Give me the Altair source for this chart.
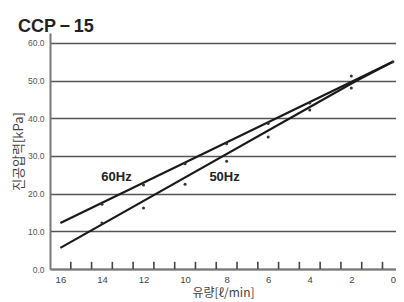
import altair as alt
import pandas as pd

# ---- data ----
series = ["60Hz", "50Hz"]
line60_x = [16, 0]
line60_y = [12.2, 55.0]
line50_x = [16, 1.8, 0]
line50_y = [5.6, 49.8, 55.0]
pts60_x = [14, 12, 10, 8, 6, 4, 2, 0]
pts60_y = [17.2, 22.3, 27.9, 33.2, 38.6, 44.0, 51.2, 55.0]
pts50_x = [14, 12, 10, 8, 6, 4, 2]
pts50_y = [12.2, 16.2, 22.5, 28.6, 35.0, 42.2, 48.0]
label_x = [13.3, 8.1]
label_y = [24.4, 24.4]

x_ticks = [16, 14, 12, 10, 8, 6, 4, 2, 0]
x_minor = [15.5, 14.5, 13.5, 12.5, 11.5, 10.5, 9.5, 8.5, 7.5, 6.5, 5.5, 4.5, 3.5, 2.5, 1.5, 0.5]
y_ticks = [0, 10, 20, 30, 40, 50, 60]

W, H = 346, 236

lines = pd.DataFrame(
    [{"s": series[0], "x": a, "y": b, "o": i} for i, (a, b) in enumerate(zip(line60_x, line60_y))]
    + [{"s": series[1], "x": a, "y": b, "o": i} for i, (a, b) in enumerate(zip(line50_x, line50_y))]
)
pts = pd.DataFrame(
    [{"s": series[0], "x": a, "y": b} for a, b in zip(pts60_x, pts60_y)]
    + [{"s": series[1], "x": a, "y": b} for a, b in zip(pts50_x, pts50_y)]
)
labels = pd.DataFrame({"s": series, "x": label_x, "y": label_y})
minor = pd.DataFrame({"m": x_minor, "b": [0.0] * len(x_minor), "t": [1.9] * len(x_minor)})

xscale = alt.Scale(domain=[-0.15, 16.5], reverse=True, nice=False, zero=False)
yscale = alt.Scale(domain=[0, 62.6], nice=False, zero=False)

FONT = "Liberation Sans"
KFONT = "Noto Sans CJK KR"

x_axis = alt.Axis(
    values=x_ticks, format="d", tickSize=0, labelPadding=5, labelFontSize=9.5,
    labelColor="#444", labelFont=FONT, domainColor="#777", domainWidth=2,
    grid=False, title="유량[ℓ/min]", titleFont=KFONT, titleFontSize=12,
    titleFontWeight="normal", titleColor="#444", titlePadding=4,
)
y_axis = alt.Axis(
    values=y_ticks, tickCount=7, format=".1f", tickSize=0, labelPadding=6,
    labelFontSize=8.5, labelOverlap=False,
    labelColor="#555", labelFont=FONT, domainColor="#777", domainWidth=2,
    grid=True, gridColor="#555", gridWidth=1.3, title="진공압력[kPa]",
    titleFont=KFONT, titleFontSize=13, titleFontWeight="normal", titleColor="#444",
    titlePadding=2,
)

line_layer = alt.Chart(lines).mark_line(color="#1a1a1a", strokeWidth=2.2).encode(
    x=alt.X("x:Q", scale=xscale, axis=x_axis),
    y=alt.Y("y:Q", scale=yscale, axis=y_axis),
    detail="s:N",
    order="o:Q",
)

pt_layer = alt.Chart(pts).mark_circle(color="#333", size=9, opacity=1).encode(
    x=alt.X("x:Q", scale=xscale, axis=x_axis),
    y=alt.Y("y:Q", scale=yscale, axis=y_axis),
)

txt_layer = alt.Chart(labels).mark_text(
    font=FONT, fontSize=13, fontWeight="bold", color="#222"
).encode(
    x=alt.X("x:Q", scale=xscale, axis=x_axis),
    y=alt.Y("y:Q", scale=yscale, axis=y_axis),
    text="s:N",
)

# small upward ticks on the x axis (half-unit positions), through both scales
tick_layer = alt.Chart(minor).mark_rule(color="#444", strokeWidth=1.6).encode(
    x=alt.X("m:Q", scale=xscale, axis=x_axis),
    y=alt.Y("b:Q", scale=yscale, axis=y_axis),
    y2="t:Q",
)

chart = alt.layer(line_layer, pt_layer, txt_layer, tick_layer).properties(
    width=W, height=H,
    title=alt.TitleParams(
        text="CCP\u2009\u2212\u200915", anchor="start", frame="group", dx=-32, offset=-17,
        baseline="alphabetic", fontSize=18, fontWeight="bold", font=FONT, color="#222",
    ),
    autosize=alt.AutoSizeParams(type="none"),
    padding={"left": 42, "top": 25, "right": 0, "bottom": 30},
).configure_view(stroke=None)

chart.save("out.html", embed_options={"renderer": "svg", "actions": False})
